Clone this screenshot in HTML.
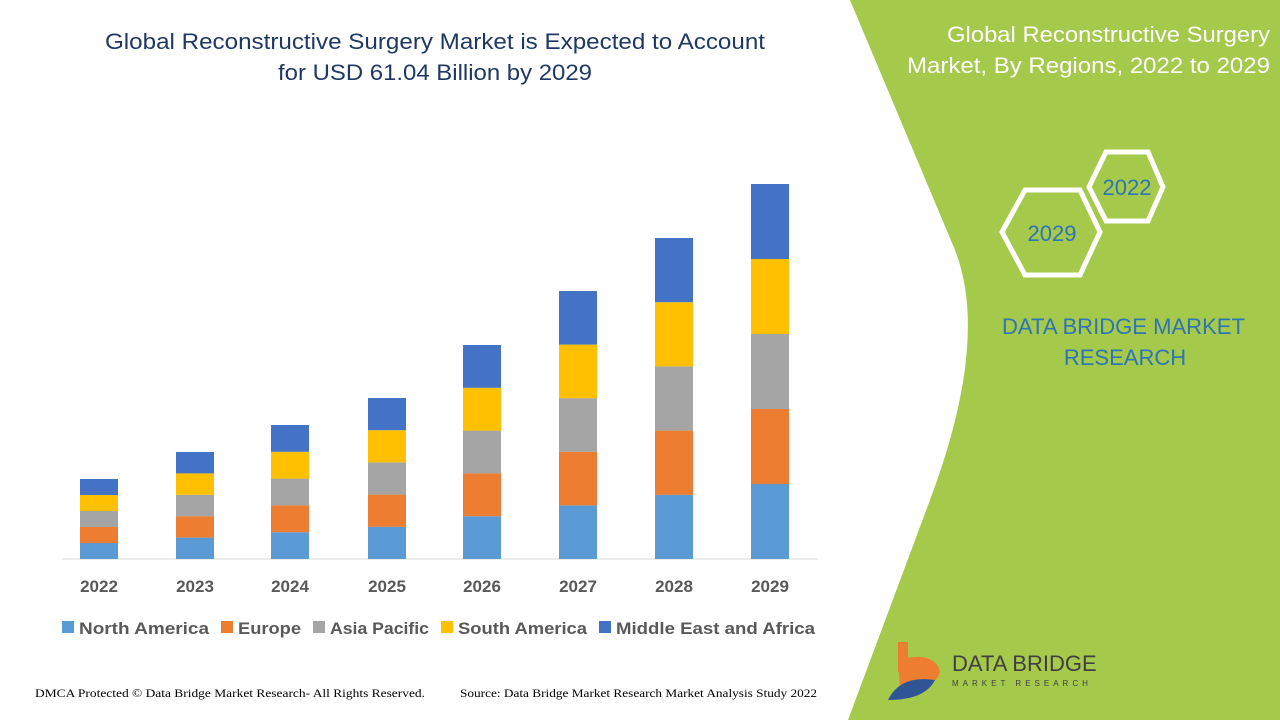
<!DOCTYPE html>
<html><head><meta charset="utf-8"><style>
body{margin:0;width:1280px;height:720px;overflow:hidden;background:#fff;font-family:"Liberation Sans",sans-serif;position:relative}
</style></head><body>
<svg width="1280" height="720" style="position:absolute;left:0;top:0">
<path d="M850,0 L1280,0 L1280,720 L848,720 L930,500 Q990,340 955,250 Z" fill="#a5c94a"/>
<polygon points="1106,152 1148,152 1163,187 1148,221 1106,221 1089,187" fill="none" stroke="#fff" stroke-width="5"/>
<polygon points="1025,190 1080,190 1100,232 1080,275 1025,275 1002,232" fill="none" stroke="#fff" stroke-width="5"/>
<line x1="62" y1="559" x2="818" y2="559" stroke="#d9d9d9"/>
<g id="bars"></g>
<g font-size="17" font-weight="bold" fill="#595959" text-anchor="middle">
<text x="99" y="592">2022</text><text x="195" y="592">2023</text><text x="290" y="592">2024</text><text x="387" y="592">2025</text><text x="482" y="592">2026</text><text x="578" y="592">2027</text><text x="674" y="592">2028</text><text x="770" y="592">2029</text>
</g>
<g font-size="17" font-weight="bold" fill="#595959">
<rect x="62" y="621" width="12" height="12" fill="#5b9bd5"/><text x="79" y="634" textLength="130" lengthAdjust="spacingAndGlyphs">North America</text>
<rect x="221" y="621" width="12" height="12" fill="#ed7d31"/><text x="238" y="634" textLength="63" lengthAdjust="spacingAndGlyphs">Europe</text>
<rect x="313" y="621" width="12" height="12" fill="#a5a5a5"/><text x="330" y="634" textLength="99" lengthAdjust="spacingAndGlyphs">Asia Pacific</text>
<rect x="441" y="621" width="12" height="12" fill="#ffc000"/><text x="458" y="634" textLength="129" lengthAdjust="spacingAndGlyphs">South America</text>
<rect x="599" y="621" width="12" height="12" fill="#4472c4"/><text x="616" y="634" textLength="199" lengthAdjust="spacingAndGlyphs">Middle East and Africa</text>
</g>
<text x="1127" y="195" font-size="22" fill="#2e75b6" text-anchor="middle">2022</text>
<text x="1052" y="241" font-size="22" fill="#2e75b6" text-anchor="middle">2029</text>
<text x="1002" y="334" font-size="22" fill="#2e75b6" textLength="243" lengthAdjust="spacingAndGlyphs">DATA BRIDGE MARKET</text>
<text x="1125" y="365" font-size="22" fill="#2e75b6" text-anchor="middle">RESEARCH</text>
<text x="947" y="42" font-size="22" fill="#fff" textLength="323" lengthAdjust="spacingAndGlyphs">Global Reconstructive Surgery</text>
<text x="907" y="73" font-size="22" fill="#fff" textLength="363" lengthAdjust="spacingAndGlyphs">Market, By Regions, 2022 to 2029</text>
<text x="105" y="49" font-size="22" fill="#1f3864" textLength="660" lengthAdjust="spacingAndGlyphs">Global Reconstructive Surgery Market is Expected to Account</text>
<text x="278" y="80" font-size="22" fill="#1f3864" textLength="314" lengthAdjust="spacingAndGlyphs">for USD 61.04 Billion by 2029</text>
<rect x="898" y="642" width="10" height="30" fill="#ed7d31"/>
<path d="M898,660 Q935,650 940,672 Q935,690 900,688 Z" fill="#ed7d31"/>
<path d="M888,700 Q900,675 935,680 Q925,700 888,700Z" fill="#2f5597"/>
<text x="952" y="671" font-size="22" fill="#404040">DATA BRIDGE</text>
<text x="952" y="686" font-size="8" fill="#404040" letter-spacing="4">MARKET RESEARCH</text>
<text x="35" y="697" font-size="12" fill="#000" font-family="Liberation Serif" textLength="390" lengthAdjust="spacingAndGlyphs">DMCA Protected © Data Bridge Market Research- All Rights Reserved.</text>
<text x="460" y="697" font-size="12" fill="#000" font-family="Liberation Serif" textLength="357" lengthAdjust="spacingAndGlyphs">Source: Data Bridge Market Research Market Analysis Study 2022</text>
</svg>
<script>
var xs=[80,176,271,368,463,559,655,751],tops=[479,452,425,398,345,291,238,184];
var c=["#5b9bd5","#ed7d31","#a5a5a5","#ffc000","#4472c4"],s="";
for(var i=0;i<8;i++){var h=(559-tops[i])/5;for(var k=0;k<5;k++){s+='<rect x="'+xs[i]+'" y="'+(559-h*(k+1))+'" width="38" height="'+h+'" fill="'+c[k]+'"/>';}}
document.getElementById('bars').innerHTML=s;
</script>
</body></html>
